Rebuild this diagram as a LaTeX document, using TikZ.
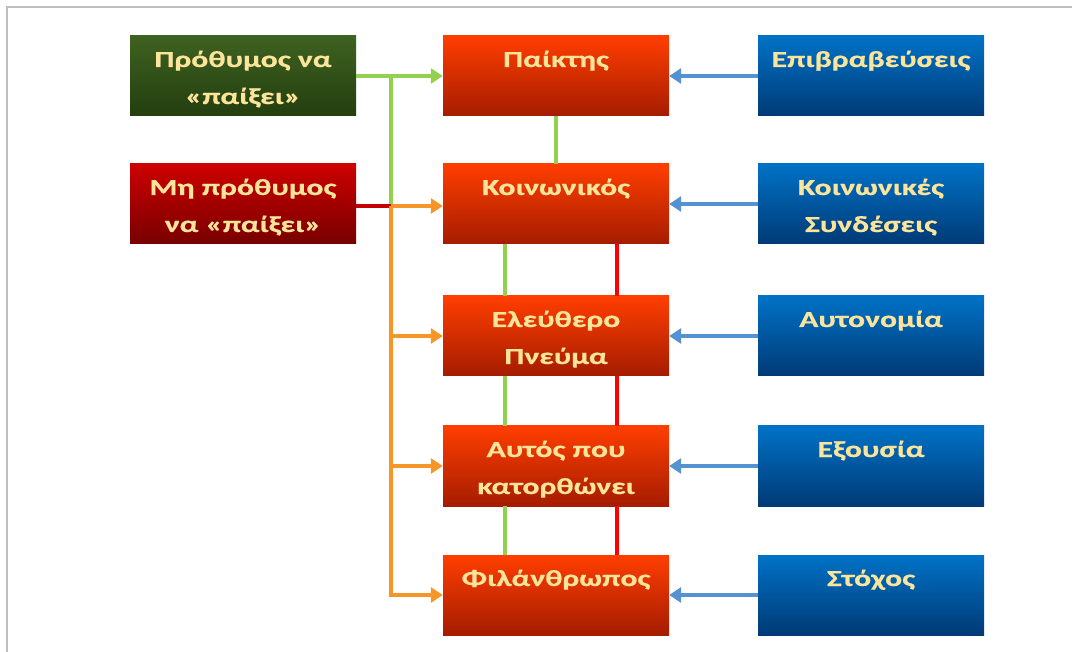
\documentclass[tikz,border=0pt]{standalone}
\usepackage{fontspec}
\setmainfont{Carlito}[BoldFeatures={FakeStretch=1.38,FakeBold=0.6}]
\usetikzlibrary{arrows.meta}
\definecolor{txt}{RGB}{252,228,155}
\definecolor{gtop}{RGB}{62,98,32}
\definecolor{gbot}{RGB}{36,62,16}
\definecolor{rtop}{RGB}{205,0,0}
\definecolor{rbot}{RGB}{120,0,0}
\definecolor{otop}{RGB}{255,62,0}
\definecolor{obot}{RGB}{165,28,0}
\definecolor{btop}{RGB}{0,114,198}
\definecolor{bbot}{RGB}{0,58,118}
\definecolor{lgreen}{RGB}{146,208,80}
\definecolor{lorange}{RGB}{247,150,40}
\definecolor{lblue}{RGB}{84,146,210}
\definecolor{lred}{RGB}{255,0,0}
\definecolor{ldred}{RGB}{195,0,0}
\definecolor{frame}{RGB}{190,190,190}
\newcommand{\bxt}[1]{\parbox[c][80pt][t]{226pt}{\centering\fontsize{23}{37}\selectfont\bfseries\rule{0pt}{31pt}#1}}
\tikzset{
  x=1pt,y=-1pt,
  bx/.style={rectangle,inner sep=0pt,minimum width=226pt,minimum height=80pt,text=txt},
  gbx/.style={bx,top color=gtop,bottom color=gbot},
  rbx/.style={bx,top color=rtop,bottom color=rbot},
  obx/.style={bx,top color=otop,bottom color=obot},
  bbx/.style={bx,top color=btop,bottom color=bbot},
  ln/.style={line width=4.5pt},
  arr/.style={ln,-{Triangle[length=12pt,width=15pt]}},
}
\begin{document}
\begin{tikzpicture}
\useasboundingbox (0,0) rectangle (1072,652);
\draw[frame,line width=1.5pt] (7,652) -- (7,7) -- (1072,7);
% left
\node[gbx] (P) at (243,76) {\bxt{Πρόθυμος να\\«παίξει»}};
\node[rbx] (M) at (243,204) {\bxt{Μη πρόθυμος\\να «παίξει»}};
% middle
\node[obx] (Pa) at (556,76) {\bxt{Παίκτης}};
\node[obx] (Ko) at (556,204) {\bxt{Κοινωνικός}};
\node[obx] (El) at (556,336) {\bxt{Ελεύθερο\\Πνεύμα}};
\node[obx] (Au) at (556,466) {\bxt{Αυτός που\\κατορθώνει}};
\node[obx] (Fi) at (556,595) {\bxt{Φιλάνθρωπος}};
% right
\node[bbx] (Ep) at (871,76) {\bxt{Επιβραβεύσεις}};
\node[bbx] (KS) at (871,204) {\bxt{Κοινωνικές\\Συνδέσεις}};
\node[bbx] (An) at (871,336) {\bxt{Αυτονομία}};
\node[bbx] (Ex) at (871,466) {\bxt{Εξουσία}};
\node[bbx] (St) at (871,595) {\bxt{Στόχος}};
% junctions
\coordinate (j1) at (391,76);
\coordinate (j2) at (391,206);
% green
\draw[arr,lgreen] (P.east) -- (Pa.west);
\draw[ln,lgreen] (j1) -- (j2);
% red from M
\draw[ln,ldred] (M.east |- j2) -- (j2);
% orange
\draw[arr,lorange] (j2) -- (j2 -| Ko.west);
\draw[arr,lorange] (j2) |- (Fi.west);
\draw[arr,lorange] (j2 |- El.west) -- (El.west);
\draw[arr,lorange] (j2 |- Au.west) -- (Au.west);
% vertical links
\draw[ln,lgreen] (Pa.south) -- (Ko.north);
\foreach \a/\b in {Ko/El,El/Au,Au/Fi}{
  \draw[ln,lgreen] ([xshift=-51pt]\a.south) -- ([xshift=-51pt]\b.north);
  \draw[ln,lred] ([xshift=61pt]\a.south) -- ([xshift=61pt]\b.north);
}
% blue
\draw[arr,lblue] (Ep.west) -- (Pa.east);
\draw[arr,lblue] (KS.west) -- (Ko.east);
\draw[arr,lblue] (An.west) -- (El.east);
\draw[arr,lblue] (Ex.west) -- (Au.east);
\draw[arr,lblue] (St.west) -- (Fi.east);
\end{tikzpicture}
\end{document}
